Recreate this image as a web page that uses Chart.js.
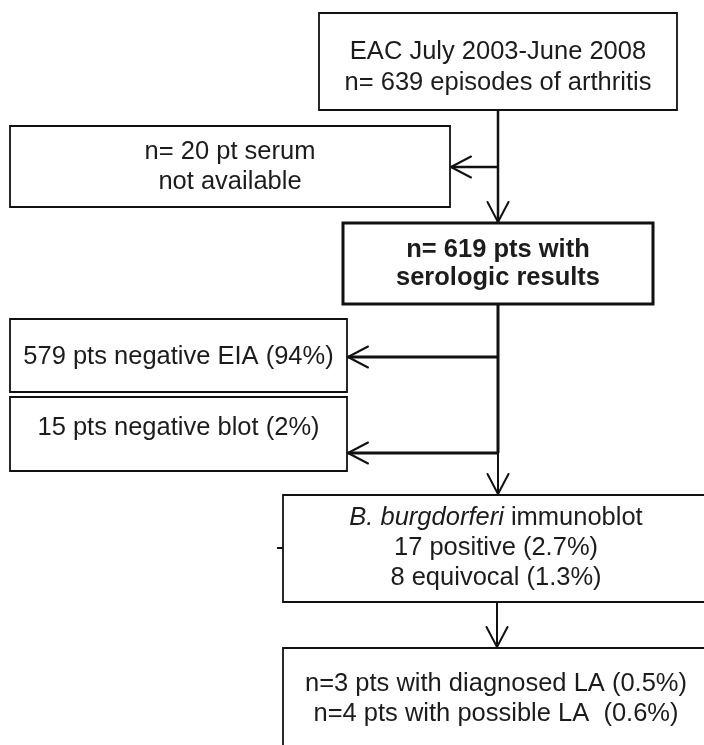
<!DOCTYPE html>
<html>
<head>
<meta charset="utf-8">
<title>EAC serology flowchart</title>
<script src="https://cdn.jsdelivr.net/npm/chart.js@4.4.1/dist/chart.umd.min.js"></script>
<style>
  html, body { margin: 0; padding: 0; background: #fff; }
  #flow { display: block; }
</style>
</head>
<body>
<canvas id="flow" width="704" height="745"></canvas>
<script>
// Box texts, top to bottom. Words between * * are set in italics
const boxNames = ['cohort', 'noSerum', 'serology', 'negEia', 'negBlot', 'immunoblot', 'lyme'];
const boxLines = [
    ['EAC July 2003-June 2008', 'n= 639 episodes of arthritis'],
    ['n= 20 pt serum', 'not available'],
    ['n= 619 pts with', 'serologic results'],
    ['579 pts negative EIA (94%)'],
    ['15 pts negative blot (2%)'],
    ['*B. burgdorferi* immunoblot', '17 positive (2.7%)', '8 equivocal (1.3%)'],
    ['n=3 pts with diagnosed LA (0.5%)', 'n=4 pts with possible LA  (0.6%)'],
];
const boxBold = [false, false, true, false, false, false, false];

// Box layout (picture pixels): edges, middle of the text block, line spacing
const boxLeft   = [319, 10, 343, 10, 10, 283, 283];
const boxRight  = [677, 450, 653, 347, 347, 709, 709];
const boxTop    = [13, 126, 223, 319, 397, 495, 648];
const boxBottom = [110, 207, 304, 392, 471, 602, 790];
const textMid   = [67, 167, 264, 357, 428, 548, 699];
const textGap   = [31, 30, 28, 30, 30, 30, 30];

// Flow lines: from (x1,y1) to (x2,y2); arrow = open arrowhead at the end
const flowX1 = [498, 498, 498, 498, 498, 498, 497, 277];
const flowY1 = [110, 167, 304, 453, 357, 453, 602, 548];
const flowX2 = [498, 451, 498, 498, 348, 348, 497, 283];
const flowY2 = [222, 167, 453, 494, 357, 453, 647, 548];
const flowWidth = [2.5, 2.5, 3, 2, 3, 3, 2, 2];
const flowArrow = [true, true, false, true, true, true, true, false];

const ink = '#111';
const textInk = '#1c1c1c';
const fontFamily = '"Liberation Sans", Arial, Helvetica, sans-serif';
const fontSize = 25.5;

let datasets = [];

// boxes as closed polylines
for (let i = 0; i < boxNames.length; i++) {
    let l = boxLeft[i], r = boxRight[i], t = boxTop[i], b = boxBottom[i];
    datasets.push({
        label: boxNames[i],
        data: [{x: l, y: t}, {x: r, y: t}, {x: r, y: b}, {x: l, y: b}, {x: l, y: t}],
        showLine: true,
        borderColor: ink,
        borderWidth: boxBold[i] ? 3 : 1.8,
        borderJoinStyle: 'miter',
        borderCapStyle: 'square',
        pointRadius: 0,
        fill: false,
    });
}

// connectors and arrowheads
const headLen = 20;
const headHalf = 10.5;
for (let i = 0; i < flowX1.length; i++) {
    datasets.push({
        label: 'flow' + i,
        data: [{x: flowX1[i], y: flowY1[i]}, {x: flowX2[i], y: flowY2[i]}],
        showLine: true,
        borderColor: ink,
        borderWidth: flowWidth[i],
        borderCapStyle: 'butt',
        pointRadius: 0,
    });
    if (flowArrow[i]) {
        let dx = flowX2[i] - flowX1[i], dy = flowY2[i] - flowY1[i];
        let len = Math.sqrt(dx * dx + dy * dy);
        let ux = dx / len, uy = dy / len;
        let bx = flowX2[i] - ux * headLen, by = flowY2[i] - uy * headLen;
        datasets.push({
            label: 'head' + i,
            data: [
                {x: bx - uy * headHalf, y: by + ux * headHalf},
                {x: flowX2[i], y: flowY2[i]},
                {x: bx + uy * headHalf, y: by - ux * headHalf},
            ],
            showLine: true,
            borderColor: ink,
            borderWidth: 2,
            borderJoinStyle: 'round',
            borderCapStyle: 'round',
            pointRadius: 0,
        });
    }
}

// draw the box texts centred in each box
const boxTextPlugin = {
    id: 'boxText',
    afterDatasetsDraw(chart) {
        const ctx = chart.ctx;
        const xs = chart.scales.x, ys = chart.scales.y;
        ctx.save();
        ctx.fillStyle = textInk;
        ctx.textBaseline = 'middle';
        ctx.textAlign = 'left';
        for (let i = 0; i < boxNames.length; i++) {
            let cx = xs.getPixelForValue((boxLeft[i] + boxRight[i]) / 2);
            let lines = boxLines[i];
            let gap = textGap[i];
            let y0 = ys.getPixelForValue(textMid[i]) - (lines.length - 1) * gap / 2;
            lines.forEach(function(line, k) {
                let parts = line.split('*');
                let widths = parts.map(function(p, j) {
                    ctx.font = fontFor(boxBold[i], j % 2 === 1);
                    return ctx.measureText(p).width;
                });
                let total = widths.reduce(function(a, b) { return a + b; }, 0);
                let x = cx - total / 2;
                parts.forEach(function(p, j) {
                    ctx.font = fontFor(boxBold[i], j % 2 === 1);
                    ctx.fillText(p, x, y0 + k * gap);
                    x += widths[j];
                });
            });
        }
        ctx.restore();
    }
};

function fontFor(bold, italic) {
    return (italic ? 'italic ' : '') + (bold ? 'bold ' : '') + fontSize + 'px ' + fontFamily;
}

new Chart(document.getElementById('flow'), {
    type: 'scatter',
    data: {datasets: datasets},
    options: {
        responsive: false,
        animation: false,
        events: [],
        layout: {padding: 0},
        plugins: {legend: {display: false}, tooltip: {enabled: false}},
        scales: {
            x: {type: 'linear', min: 0, max: 704, display: false},
            y: {type: 'linear', min: 0, max: 745, reverse: true, display: false},
        },
    },
    plugins: [boxTextPlugin],
});
</script>
</body>
</html>
